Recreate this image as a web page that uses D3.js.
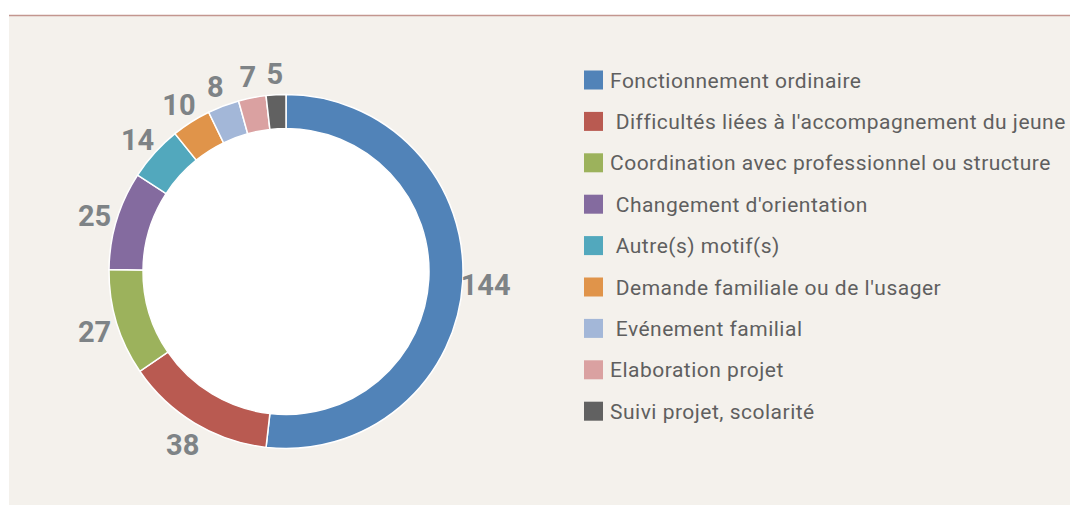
<!DOCTYPE html>
<html>
<head>
<meta charset="utf-8">
<script src="https://cdn.jsdelivr.net/npm/d3@7/dist/d3.min.js"></script>
<style>
  body { margin: 0; background: #ffffff; }
  svg { display: block; }
</style>
</head>
<body>
<script>
// data
const categories = [
  "Fonctionnement ordinaire",
  " Difficultés liées à l'accompagnement du jeune",
  "Coordination avec professionnel ou structure",
  " Changement d'orientation",
  " Autre(s) motif(s)",
  " Demande familiale ou de l'usager",
  " Evénement familial",
  "Elaboration projet",
  "Suivi projet, scolarité"
]
const values = [144, 38, 27, 25, 14, 10, 8, 7, 5]
const colors = ["#5183b8", "#b95a51", "#9cb25c", "#846b9f", "#52a8bd",
                "#e0944a", "#a3b7d8", "#daa1a1", "#616161"]

const width = 1070, height = 506
const cx = 286, cy = 271.5
const outerR = 177, innerR = 143, labelR = 200

const svg = d3.select("body").append("svg")
  .attr("width", width)
  .attr("height", height)

// panel + top rule
svg.append("rect")
  .attr("x", 9).attr("y", 16)
  .attr("width", width - 9).attr("height", 489)
  .style("fill", "#f4f1ec")

svg.append("line")
  .attr("x1", 9).attr("x2", width)
  .attr("y1", 15.5).attr("y2", 15.5)
  .style("stroke", "#c3968f")
  .style("stroke-width", 1.5)

const pie = d3.pie().sort(null).value(d => d)
const arcs = pie(values)

const arc = d3.arc().innerRadius(innerR).outerRadius(outerR)
const labelArc = d3.arc().innerRadius(labelR).outerRadius(labelR)

const g = svg.append("g")
  .attr("transform", "translate(" + cx + "," + cy + ")")

g.append("circle")
  .attr("r", innerR)
  .style("fill", "#ffffff")

g.selectAll("path.slice")
  .data(arcs)
  .enter().append("path")
  .attr("class", "slice")
  .attr("d", arc)
  .style("fill", (d, i) => colors[i])
  .style("stroke", "#ffffff")
  .style("stroke-width", 1.5)

g.selectAll("text.val")
  .data(arcs)
  .enter().append("text")
  .attr("class", "val")
  .attr("transform", d => "translate(" + labelArc.centroid(d) + ")")
  .attr("text-anchor", "middle")
  .attr("dy", "0.42em")
  .style("font-family", "Roboto, 'Liberation Sans', sans-serif")
  .style("font-weight", "bold")
  .style("font-size", "29px")
  .style("fill", "#7e8386")
  .text(d => d.data)

// legend
const legend = svg.append("g")
  .attr("transform", "translate(584,80)")

const rows = legend.selectAll("g.row")
  .data(categories)
  .enter().append("g")
  .attr("class", "row")
  .attr("transform", (d, i) => "translate(0," + (i * 41.4) + ")")

rows.append("rect")
  .attr("x", 0).attr("y", -9.5)
  .attr("width", 19).attr("height", 19)
  .style("fill", (d, i) => colors[i])

rows.append("text")
  .attr("x", 26)
  .attr("dy", "0.36em")
  .attr("xml:space", "preserve")
  .style("white-space", "pre")
  .style("font-family", "Roboto, sans-serif")
  .style("font-size", "21px")
  .style("letter-spacing", "0.5px")
  .style("fill", "#5f5f5f")
  .text(d => d)
</script>
</body>
</html>
